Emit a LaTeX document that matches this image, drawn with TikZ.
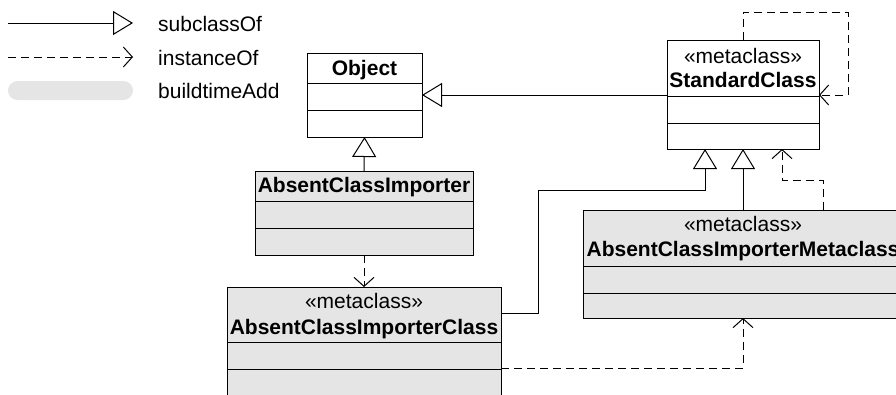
\documentclass[tikz,border=0pt]{standalone}
\usepackage{fontspec}
\setmainfont{Liberation Sans}
\usetikzlibrary{arrows.meta}

\tikzset{
  every node/.style={font=\fontsize{21}{24}\selectfont, inner sep=0pt},
  umlbox/.style={draw, line width=1pt, rectangle, inner sep=0pt, outer sep=0pt},
  plainbox/.style={umlbox, fill=white},
  addbox/.style={umlbox, fill=gray!20},
  divider/.style={line width=1pt},
  subline/.style={line width=1pt, -{Triangle[open, length=20pt, width=24pt, line width=1pt]}},
  instline/.style={line width=1pt, dash pattern=on 8pt off 5pt,
    -{Straight Barb[length=9pt, width=20pt, line width=1pt]}},
  label/.style={anchor=base},
  legendtext/.style={anchor=base west}
}

\begin{document}
\begin{tikzpicture}[x=1pt, y=-1pt]
  \useasboundingbox (0,0) rectangle (896,394);
  \clip (0,0) rectangle (896,394);

  % legend
  \coordinate (subA) at (8,23);
  \coordinate (subB) at (133,23);
  \draw[subline] (subA) -- (subB);
  \node[legendtext] (subT) at (158,31.5) {subclassOf};
  \coordinate (instA) at (8,57);
  \coordinate (instB) at (133,57);
  \draw[instline] (instA) -- (instB);
  \node[legendtext] (instT) at (158,65) {instanceOf};
  \fill[gray!20, rounded corners=9.5pt] (8,81) rectangle (133,100);
  \node[legendtext] (addT) at (158,98) {buildtimeAdd};

  % class Object
  \node[plainbox, minimum width=115pt, minimum height=84pt] (obj) at (364.5,95) {};
  \draw[divider] (307,83) -- (422,83);
  \draw[divider] (307,110) -- (422,110);
  \node[label] (objT) at (364.5,75) {\bfseries Object};

  % class StandardClass
  \node[plainbox, minimum width=152pt, minimum height=109pt] (std) at (743,94.5) {};
  \draw[divider] (667,96) -- (819,96);
  \draw[divider] (667,123) -- (819,123);
  \node[label] (stdS) at (743,63) {«metaclass»};
  \node[label] (stdT) at (743,87) {\bfseries StandardClass};

  % class AbsentClassImporter
  \node[addbox, minimum width=218pt, minimum height=84pt] (aci) at (364,213) {};
  \draw[divider] (255,201) -- (473,201);
  \draw[divider] (255,228) -- (473,228);
  \node[label] (aciT) at (364,192.5) {\bfseries AbsentClassImporter};

  % class AbsentClassImporterClass
  \node[addbox, minimum width=274pt, minimum height=109pt] (acic) at (364,341.5) {};
  \draw[divider] (227,342) -- (501,342);
  \draw[divider] (227,369) -- (501,369);
  \node[label] (acicS) at (364,308.5) {«metaclass»};
  \node[label] (acicT) at (364,334) {\bfseries AbsentClassImporterClass};

  % class AbsentClassImporterMetaclass
  \node[addbox, minimum width=320pt, minimum height=108pt] (acim) at (743,264) {};
  \draw[divider] (583,266) -- (903,266);
  \draw[divider] (583,293) -- (903,293);
  \node[label] (acimS) at (743,231.5) {«metaclass»};
  \node[label] (acimT) at (743,256) {\bfseries AbsentClassImporterMetaclass};

  % subclassOf connectors
  \draw[subline] (std.west |- obj.east) -- (obj.east);
  \draw[subline] (aci.north) -- (obj.south);
  \draw[subline] ([yshift=-26pt]acic.north east) -- (538,313) -- (538,190)
    -- (705,190) -- ([xshift=-38pt]std.south);
  \draw[subline] (acim.north) -- (std.south);

  % instanceOf connectors
  \draw[instline] (std.north) -- ++(0,-28) -- ++(105,0) |- ([yshift=-55pt]std.north east);
  \draw[instline] (aci.south) -- (acic.north);
  \draw[instline] ([xshift=80pt]acim.north) -- ++(0,-30) -| ([xshift=39pt]std.south);
  \draw[instline] ([yshift=-81pt]acic.north east) -| (acim.south);
\end{tikzpicture}
\end{document}
